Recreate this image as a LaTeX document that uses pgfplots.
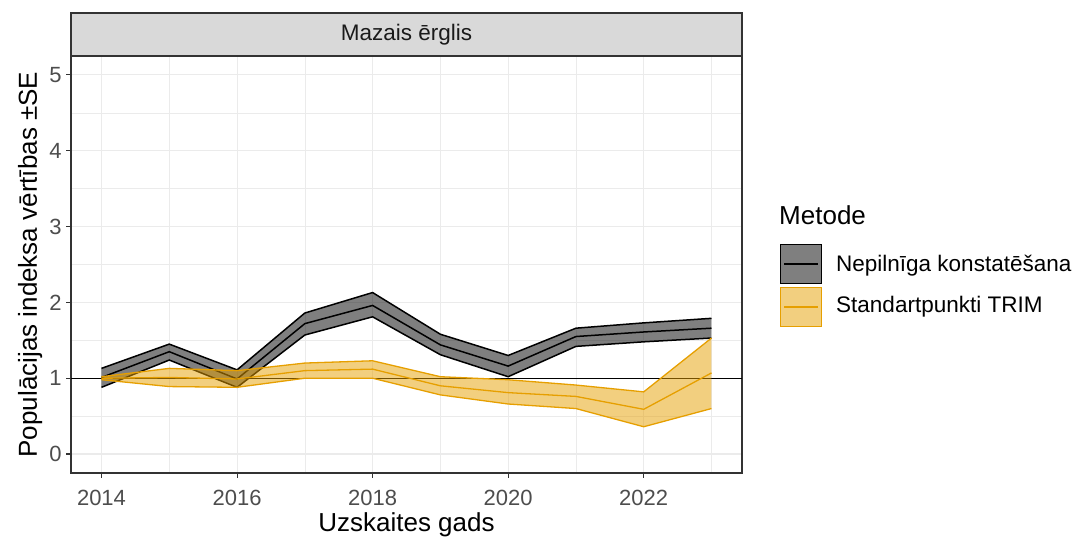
\documentclass[border=0pt]{standalone}
\usepackage{pgfplots}
\pgfplotsset{compat=1.18}
\usepackage{pgfplotstable}
\usepackage{fontspec}
\setmainfont{Liberation Sans}
\definecolor{ggorange}{HTML}{E69F00}
\definecolor{gridc}{HTML}{EBEBEB}
\definecolor{axc}{HTML}{333333}
\definecolor{tickc}{HTML}{4D4D4D}
\definecolor{stripc}{HTML}{D9D9D9}
\definecolor{txtc}{HTML}{1A1A1A}
\definecolor{orfill}{HTML}{F2CF7F}
\definecolor{grfill}{HTML}{7F7F7F}

\pgfplotstableread{
year lo mid hi
2014 0.88 1.01 1.13
2015 1.24 1.35 1.45
2016 0.88 0.99 1.11
2017 1.57 1.72 1.86
2018 1.81 1.96 2.13
2019 1.31 1.44 1.58
2020 1.02 1.16 1.30
2021 1.42 1.55 1.66
2022 1.48 1.61 1.73
2023 1.53 1.66 1.79
}\nepdata

\pgfplotstableread{
year lo mid hi
2014 0.98 1.00 1.02
2015 0.89 1.01 1.13
2016 0.88 0.99 1.10
2017 1.00 1.10 1.20
2018 1.00 1.12 1.23
2019 0.78 0.90 1.02
2020 0.66 0.81 0.98
2021 0.60 0.76 0.91
2022 0.36 0.59 0.82
2023 0.60 1.07 1.53
}\trimdata

\begin{document}
\begin{tikzpicture}
\path[use as bounding box] (0pt,0pt) rectangle (1082pt,543pt);
\begin{axis}[
  at={(71pt,70pt)}, anchor=south west,
  width=671pt, height=417pt, scale only axis,
  xmin=2013.55, xmax=2023.45, ymin=-0.25, ymax=5.25,
  xtick={2014,2016,2018,2020,2022}, minor xtick={2015,2017,2019,2021,2023},
  ytick={0,1,2,3,4,5}, minor ytick={0.5,1.5,2.5,3.5,4.5},
  grid=both,
  major grid style={gridc, line width=1.1pt},
  minor grid style={gridc, line width=0.55pt},
  axis line style={axc, line width=1.1pt},
  major tick style={axc, line width=1.1pt},
  major tick length=5pt, minor tick length=0pt,
  tick align=outside, xtick pos=left, ytick pos=left,
  /pgf/number format/assume math mode=true,
  /pgf/number format/1000 sep={},
  x tick label style={font=\fontsize{22}{22}\selectfont, text=tickc, yshift=-8.5pt},
  y tick label style={font=\fontsize{22}{22}\selectfont, text=tickc, xshift=-1pt},
  xlabel={Uzskaites gads}, ylabel={Populācijas indeksa vērtības ±SE},
  label style={font=\fontsize{26}{26}\selectfont, text=black},
  xlabel style={yshift=0pt},
  ylabel style={yshift=0pt},
]
\addplot[black, line width=1.1pt, forget plot] coordinates {(2013.55,1) (2023.45,1)};

% Nepilniga konstatesana: ribbon (upper forward, lower backward)
\addplot[fill=black, fill opacity=0.5, draw=none, forget plot] coordinates {
(2014,1.13) (2015,1.45) (2016,1.11) (2017,1.86) (2018,2.13) (2019,1.58) (2020,1.30) (2021,1.66) (2022,1.73) (2023,1.79)
(2023,1.53) (2022,1.48) (2021,1.42) (2020,1.02) (2019,1.31) (2018,1.81) (2017,1.57) (2016,0.88) (2015,1.24) (2014,0.88)
} -- cycle;
\addplot[black, line width=1.5pt, forget plot] table[x=year, y=lo] {\nepdata};
\addplot[black, line width=1.5pt, forget plot] table[x=year, y=hi] {\nepdata};
\addplot[black, line width=1.5pt, forget plot] table[x=year, y=mid] {\nepdata};

% Standartpunkti TRIM
\addplot[fill=ggorange, fill opacity=0.5, draw=none, forget plot] coordinates {
(2014,1.02) (2015,1.13) (2016,1.10) (2017,1.20) (2018,1.23) (2019,1.02) (2020,0.98) (2021,0.91) (2022,0.82) (2023,1.53)
(2023,0.60) (2022,0.36) (2021,0.60) (2020,0.66) (2019,0.78) (2018,1.00) (2017,1.00) (2016,0.88) (2015,0.89) (2014,0.98)
} -- cycle;
\addplot[ggorange, line width=1.3pt, forget plot] table[x=year, y=lo] {\trimdata};
\addplot[ggorange, line width=1.3pt, forget plot] table[x=year, y=hi] {\trimdata};
\addplot[ggorange, line width=1.3pt, forget plot] table[x=year, y=mid] {\trimdata};
\end{axis}

% facet strip
\draw[axc, fill=stripc, line width=1.1pt] (71pt,487pt) rectangle (742pt,530pt);
\node[text=txtc, font=\fontsize{22.5}{22.5}\selectfont] at (406.5pt,508.5pt) {Mazais ērglis};

% legend
\node[anchor=west, font=\fontsize{26}{26}\selectfont, inner sep=0pt] at (779pt,328pt) {Metode};
\draw[black, fill=grfill, line width=1.4pt] (780.7pt,259.7pt) rectangle (821.3pt,298.3pt);
\draw[black, line width=1.4pt] (784pt,279pt) -- (818pt,279pt);
\draw[ggorange, fill=orfill, line width=1.4pt] (780.7pt,216.7pt) rectangle (821.3pt,255.3pt);
\draw[ggorange, line width=1.2pt] (784pt,236pt) -- (818pt,236pt);
\node[anchor=west, font=\fontsize{22.5}{22.5}\selectfont, inner sep=0pt] at (836pt,277pt) {Nepilnīga konstatēšana};
\node[anchor=west, font=\fontsize{22.5}{22.5}\selectfont, inner sep=0pt] at (836pt,236pt) {Standartpunkti TRIM};
\end{tikzpicture}
\end{document}
